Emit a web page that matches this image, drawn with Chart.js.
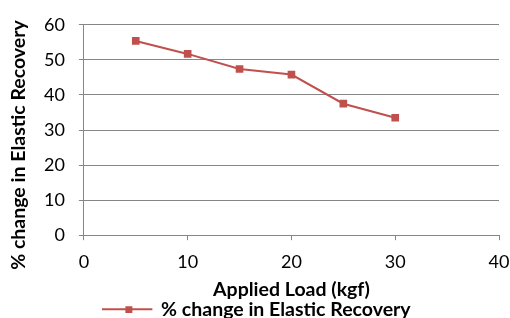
<!DOCTYPE html>
<html>
<head>
<meta charset="utf-8">
<script src="https://cdn.jsdelivr.net/npm/chart.js@4"></script>
<style>
  html, body { margin: 0; padding: 0; background: #fff; }
  #chart { display: block; }
</style>
</head>
<body>
<canvas id="chart" width="510" height="318"></canvas>
<script>
// data
let loads = [5, 10, 15, 20, 25, 30];
let recovery = [55.4, 51.7, 47.4, 45.8, 37.5, 33.5];
let seriesName = "% change in Elastic Recovery";
let xTitle = "Applied Load (kgf)";
let yTitle = "% change in Elastic Recovery";

let red = "#C0504D";
let gray = "#868686";
let fontFamily = "Lato, 'Open Sans', sans-serif";

// legend swatch: line with a square marker in the middle
let swatch = document.createElement("canvas");
swatch.width = 52;
swatch.height = 8;
let sctx = swatch.getContext("2d");
sctx.strokeStyle = red;
sctx.lineWidth = 2;
sctx.beginPath();
sctx.moveTo(0, 4);
sctx.lineTo(50, 4);
sctx.stroke();
sctx.fillStyle = red;
sctx.fillRect(23, 1, 7, 7);

// y axis title sits a bit lower than the plot centre in the original
let yTitlePlugin = {
  id: "yTitle",
  afterDraw(chart) {
    let ctx = chart.ctx;
    ctx.save();
    ctx.translate(19, 145);
    ctx.rotate(-Math.PI / 2);
    ctx.font = "bold 19.5px " + fontFamily;
    ctx.fillStyle = "#000";
    ctx.textAlign = "center";
    ctx.textBaseline = "middle";
    ctx.fillText(yTitle, 0, 0);
    ctx.restore();
  }
};

new Chart(document.getElementById("chart"), {
  type: "scatter",
  data: {
    datasets: [{
      label: seriesName,
      data: loads.map((x, i) => ({ x: x, y: recovery[i] })),
      showLine: true,
      borderColor: red,
      backgroundColor: red,
      borderWidth: 2,
      pointStyle: "rect",
      pointRadius: 4,
      pointHoverRadius: 4
    }]
  },
  plugins: [yTitlePlugin],
  options: {
    responsive: false,
    animation: false,
    layout: { padding: { left: 6, right: 0, top: 12, bottom: -11 } },
    plugins: {
      tooltip: { enabled: false },
      legend: {
        position: "bottom",
        labels: {
          usePointStyle: true,
          pointStyleWidth: 46,
          padding: 0,
          color: "#000",
          font: { family: fontFamily, size: 19.5, weight: "bold", lineHeight: 1 },
          generateLabels: chart => [{
            text: seriesName,
            pointStyle: swatch,
            fillStyle: red,
            strokeStyle: red,
            lineWidth: 0,
            datasetIndex: 0
          }]
        }
      }
    },
    scales: {
      x: {
        type: "linear",
        min: 0,
        max: 40,
        afterFit: s => { s.paddingRight = 11; },
        ticks: {
          stepSize: 10,
          color: "#000",
          padding: 12,
          font: { family: fontFamily, size: 18, lineHeight: 1.1 }
        },
        grid: { drawOnChartArea: false, drawTicks: true, tickLength: 5, color: gray },
        border: { color: gray, width: 1 },
        title: {
          display: true,
          text: xTitle,
          color: "#000",
          padding: { top: -4, bottom: 0 },
          font: { family: fontFamily, size: 19.5, weight: "bold", lineHeight: 1 }
        }
      },
      y: {
        min: 0,
        max: 60,
        // leave room on the left for the hand-placed y title
        afterFit: s => { s.width += 24; },
        ticks: {
          stepSize: 10,
          color: "#000",
          padding: 14,
          font: { family: fontFamily, size: 18 }
        },
        grid: { drawOnChartArea: true, drawTicks: true, tickLength: 5, color: gray },
        border: { color: gray, width: 1 }
      }
    }
  }
});
</script>
</body>
</html>
